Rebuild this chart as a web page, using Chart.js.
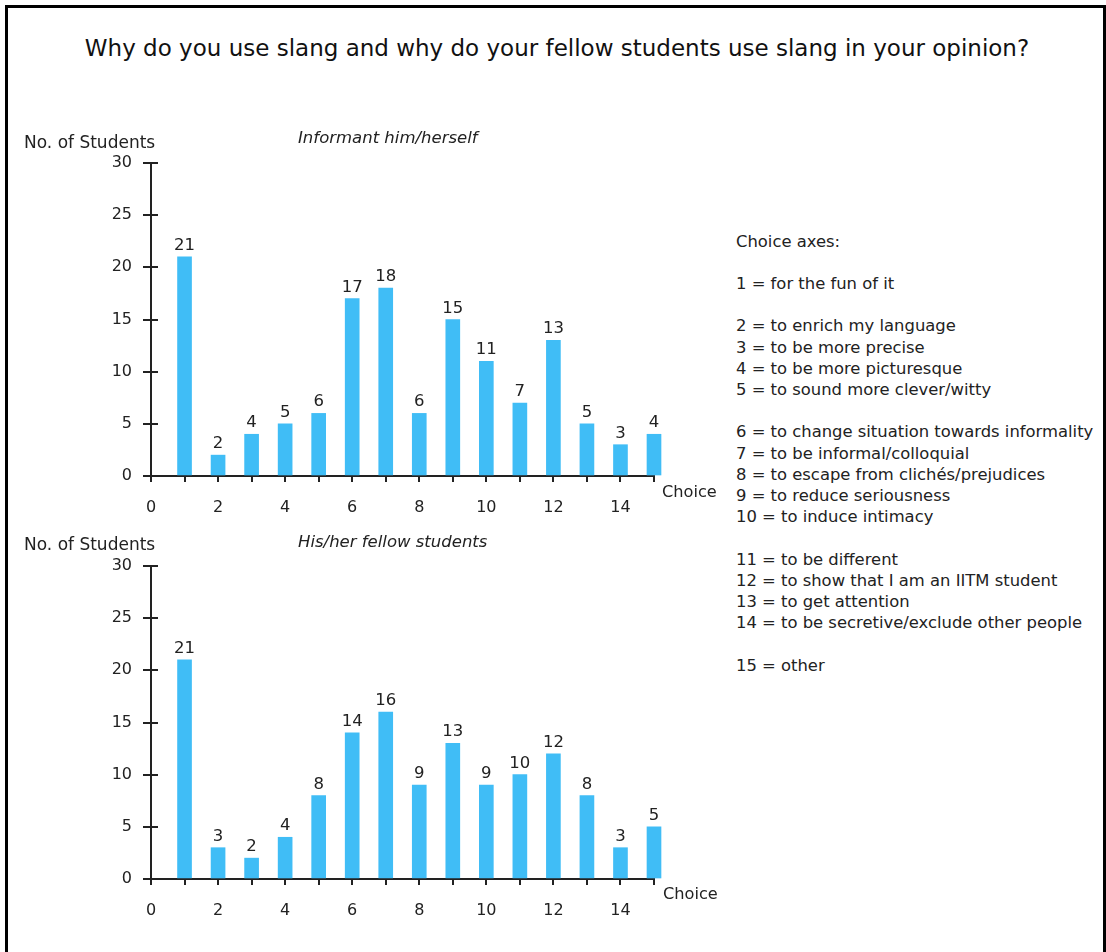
<!DOCTYPE html>
<html><head><meta charset="utf-8">
<script src="https://cdn.jsdelivr.net/npm/chart.js@4.4.1/dist/chart.umd.min.js"></script>
<style>
html,body{margin:0;padding:0;background:#fff;width:1106px;height:952px;overflow:hidden;font-family:"DejaVu Sans",sans-serif;color:#222}
#frame{position:absolute;left:5px;top:5px;width:1095px;height:1000px;border:3px solid #000}
.abs{position:absolute;white-space:nowrap;font-size:17px;line-height:18px}
canvas{position:absolute;left:0}
#title{position:absolute;left:4px;width:1106px;top:35px;text-align:center;font-size:23px;line-height:27px;white-space:nowrap;color:#111}
#legend{position:absolute;left:736px;top:230.5px;font-size:16.4px;line-height:21.2px;white-space:pre;color:#222}
</style></head>
<body>
<div id="frame"></div>
<div id="title">Why do you use slang and why do your fellow students use slang in your opinion?</div>
<canvas id="c1" width="720" height="440" style="top:100px"></canvas>
<canvas id="c2" width="720" height="440" style="top:503px"></canvas>
<div class="abs" style="left:24px;top:133px">No. of Students</div>
<div class="abs" style="left:298px;top:129px;font-style:italic;font-size:16.5px">Informant him/herself</div>
<div class="abs" style="left:662px;top:483px;font-size:16.2px">Choice</div>
<div class="abs" style="left:24px;top:535px">No. of Students</div>
<div class="abs" style="left:298px;top:533px;font-style:italic;font-size:16.5px">His/her fellow students</div>
<div class="abs" style="left:663px;top:885px;font-size:16.2px">Choice</div>
<div id="legend"></div>
<script>
// ---- data ----
const choices = [1,2,3,4,5,6,7,8,9,10,11,12,13,14,15];
const informantCounts = [21,2,4,5,6,17,18,6,15,11,7,13,5,3,4];
const fellowCounts = [21,3,2,4,8,14,16,9,13,9,10,12,8,3,5];
const yTickValues = [0,5,10,15,20,25,30];
const xTickLabels = [0,2,4,6,8,10,12,14];
const legendTitle = "Choice axes:";
const legendGroups = [
  ["1 = for the fun of it"],
  ["2 = to enrich my language","3 = to be more precise","4 = to be more picturesque","5 = to sound more clever/witty"],
  ["6 = to change situation towards informality","7 = to be informal/colloquial","8 = to escape from clichés/prejudices","9 = to reduce seriousness","10 = to induce intimacy"],
  ["11 = to be different","12 = to show that I am an IITM student","13 = to get attention","14 = to be secretive/exclude other people"],
  ["15 = other"]
];

document.getElementById('legend').textContent =
  legendTitle + "\n\n" + legendGroups.map(g => g.join("\n")).join("\n\n");

const FONT = "'DejaVu Sans', sans-serif";
const BAR = '#40BDF6';
const AX = '#222';

const valueLabels = {
  id:'valueLabels',
  afterDatasetsDraw(chart){
    const ctx = chart.ctx;
    const meta = chart.getDatasetMeta(0);
    const ds = chart.data.datasets[0].data;
    ctx.save();
    ctx.font = "16.5px " + FONT;
    ctx.fillStyle = AX;
    ctx.textAlign = 'center';
    ctx.textBaseline = 'alphabetic';
    meta.data.forEach((el,i) => {
      ctx.fillText(String(ds[i].y), el.x, el.y - 7);
    });
    ctx.restore();
  }
};
const innerTicks = {
  id:'innerTicks',
  afterDraw(chart){
    const ctx = chart.ctx, y = chart.scales.y, a = chart.chartArea;
    ctx.save();
    ctx.strokeStyle = AX; ctx.lineWidth = 2;
    yTickValues.forEach(v => {
      const py = Math.round(y.getPixelForValue(v));
      ctx.beginPath(); ctx.moveTo(a.left, py); ctx.lineTo(a.left + 7, py); ctx.stroke();
    });
    ctx.restore();
  }
};

function makeChart(id, counts){
  return new Chart(document.getElementById(id), {
    type:'bar',
    data:{datasets:[{data: choices.map((c,i)=>({x:c, y:counts[i]})), backgroundColor:BAR, barThickness:14, borderWidth:0, clip:false}]},
    options:{
      responsive:false, animation:false, devicePixelRatio:1,
      layout:{padding:{left:0,right:66,top:63,bottom:0}},
      plugins:{legend:{display:false}, tooltip:{enabled:false}, title:{display:false}},
      scales:{
        x:{type:'linear', min:0, max:15, offset:false,
           afterFit(s){ s.height = 64; },
           afterBuildTicks(s){ s.ticks = [0].concat(choices).map(v => ({value:v})); },
           ticks:{autoSkip:false, maxRotation:0, padding:16, color:AX, font:{family:FONT, size:16},
                  callback:v => xTickLabels.includes(v) ? String(v) : ''},
           grid:{drawOnChartArea:false, drawTicks:true, tickLength:6, color:AX, lineWidth:2, offset:false},
           border:{display:true, color:AX, width:2}},
        y:{min:0, max:30,
           afterFit(s){ s.width = 151; },
           afterBuildTicks(s){ s.ticks = yTickValues.map(v => ({value:v})); },
           ticks:{padding:11, color:AX, font:{family:FONT, size:16}},
           grid:{drawOnChartArea:false, drawTicks:true, tickLength:8, color:AX, lineWidth:2},
           border:{display:true, color:AX, width:2}}
      }
    },
    plugins:[valueLabels, innerTicks]
  });
}
makeChart('c1', informantCounts);
makeChart('c2', fellowCounts);
</script>
</body></html>
